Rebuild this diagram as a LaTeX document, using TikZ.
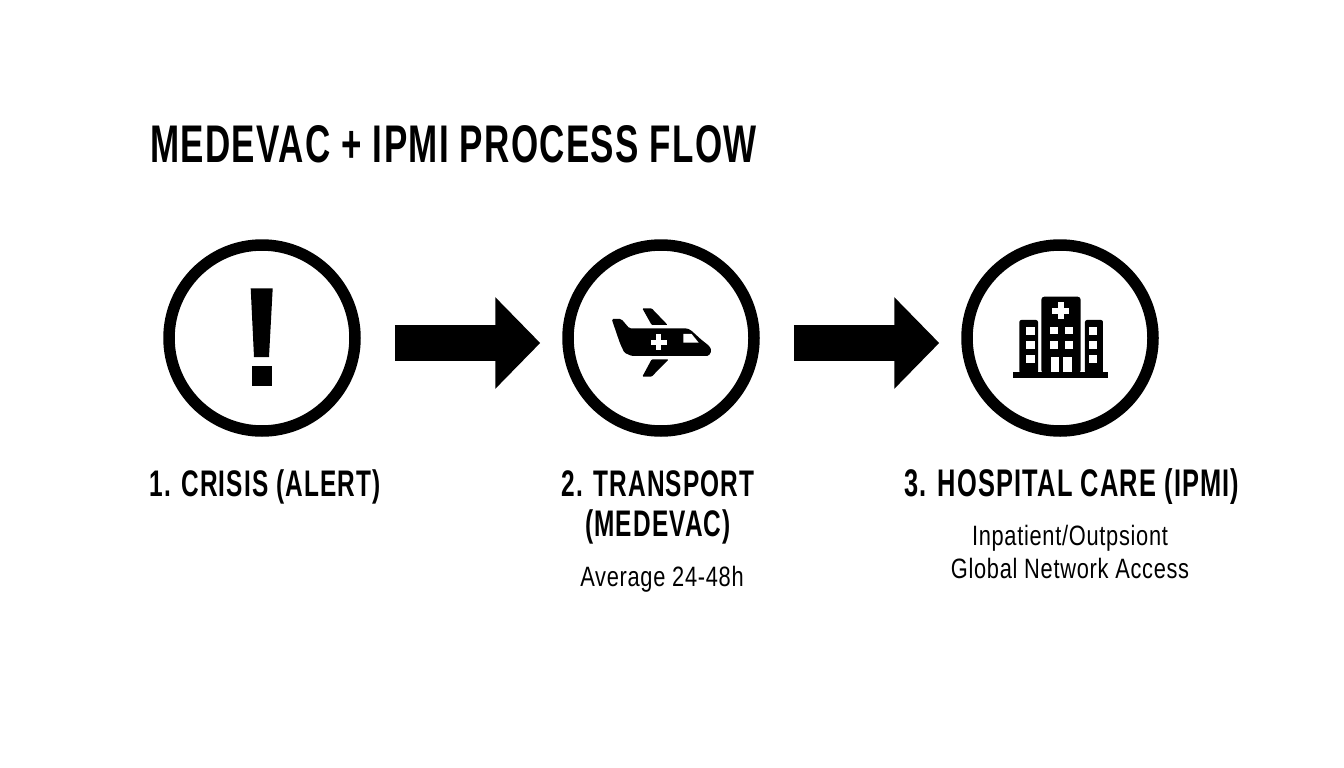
\documentclass[tikz,border=0pt]{standalone}
\usepackage{fontspec}
\setmainfont{Liberation Sans}
\newfontfamily\headfont[FakeStretch=.66,LetterSpace=3]{Liberation Sans Bold}
\newfontfamily\titlefont[FakeStretch=.66,LetterSpace=2.5]{Liberation Sans Bold}
\newfontfamily\bodyfont[FakeStretch=.78,LetterSpace=2.5]{Liberation Sans}
\usetikzlibrary{arrows.meta}
\tikzset{
	stepring/.style = {circle, draw, line width=11.5pt, minimum size=186pt, inner sep=0pt},
	flowarrow/.style = {-{Triangle[length=45pt,width=89pt]}, line width=36pt, shorten <=34pt, shorten >=22pt},
	titletext/.style = {anchor=base west, inner sep=0pt, font=\titlefont\fontsize{53}{60}\selectfont},
	steptext/.style = {anchor=base, inner sep=0pt, align=center, font=\headfont\fontsize{37}{40}\selectfont},
	subtext/.style = {anchor=base, inner sep=0pt, align=center, font=\bodyfont\fontsize{28}{33}\selectfont}
}
\begin{document}
\begin{tikzpicture}[x=1pt, y=-1pt]
	\useasboundingbox (0,0) rectangle (1344,768);
	\node [titletext] (title) at (150,162) {MEDEVAC + IPMI PROCESS FLOW};
	\node [stepring] (crisis)    at (262,338) {};
	\node [stepring] (transport) at (661,338) {};
	\node [stepring] (hospital)  at (1060,338) {};
	\draw [flowarrow] ([yshift=-5pt]crisis.east) -- ([yshift=-5pt]transport.west);
	\draw [flowarrow] ([yshift=-5pt]transport.east) -- ([yshift=-5pt]hospital.west);
	% exclamation mark
	\fill (250.7,288.3) -- (272.7,288.3) -- (269,357) -- (254,357) -- cycle;
	\fill (251.7,366) rectangle (272.3,386);
	% plane, in thirds of a pixel
	\begin{scope}[shift={(560,240)}, x=.3333pt, y=-.3333pt]
		\fill [rounded corners=1.5pt] (155,237) -- (184,237) -- (208,265) -- (380,265) -- (392,270) -- (425,300) -- (448,318) -- (455,332) -- (446,348) -- (215,348) -- (193,338) -- (180,310) -- cycle;
		\fill [rounded corners=1pt] (247,205) -- (275,205) -- (323,255) -- (275,255) -- cycle;
		\fill [rounded corners=1pt] (275,358) -- (326,358) -- (275,410) -- (247,410) -- cycle;
		\fill [white] (370,282) -- (395,282) -- (416,308) -- (370,308) -- cycle;
		\fill [white] (272,299) rectangle (320,315);
		\fill [white] (288,283) rectangle (304,331);
	\end{scope}
	% hospital, in thirds of a pixel
	\begin{scope}[shift={(960,240)}, x=.3333pt, y=-.3333pt]
		\fill (160,397) rectangle (445,415);
		\fill [rounded corners=3pt] (244,400) -- (244,170) -- (362,170) -- (362,400) -- cycle;
		\fill [rounded corners=2pt] (178,400) -- (178,240) -- (234,240) -- (234,400) -- cycle;
		\fill [rounded corners=2pt] (375,400) -- (375,240) -- (429,240) -- (429,400) -- cycle;
		\fill [white] (277,204) rectangle (327,221);
		\fill [white] (293,187) rectangle (311,238);
		\fill [white] (198,262) rectangle (224,285);
		\fill [white] (198,304) rectangle (224,328);
		\fill [white] (198,346) rectangle (224,370);
		\fill [white] (386,262) rectangle (411,285);
		\fill [white] (386,304) rectangle (411,328);
		\fill [white] (386,346) rectangle (411,370);
		\fill [white] (269,260) rectangle (294,283);
		\fill [white] (315,260) rectangle (340,283);
		\fill [white] (269,302) rectangle (294,326);
		\fill [white] (315,302) rectangle (340,326);
		\fill [white] (272,352) rectangle (298,397);
		\fill [white] (308,352) rectangle (335,397);
	\end{scope}
	% labels
	\node [steptext] (crisislabel)    at (265,496) {1. CRISIS (ALERT)};
	\node [steptext] (transportlabel) at (658,536) {2. TRANSPORT\\(MEDEVAC)};
	\node [steptext, font=\headfont\fontsize{38.5}{40}\selectfont] (hospitallabel) at (1072,496) {3. HOSPITAL CARE (IPMI)};
	\node [subtext] (transportnote) at (662,586) {Average 24-48h};
	\node [subtext] (hospitalnote)  at (1070,578) {Inpatient/Outpsiont\\Global Network Access};
\end{tikzpicture}
\end{document}
